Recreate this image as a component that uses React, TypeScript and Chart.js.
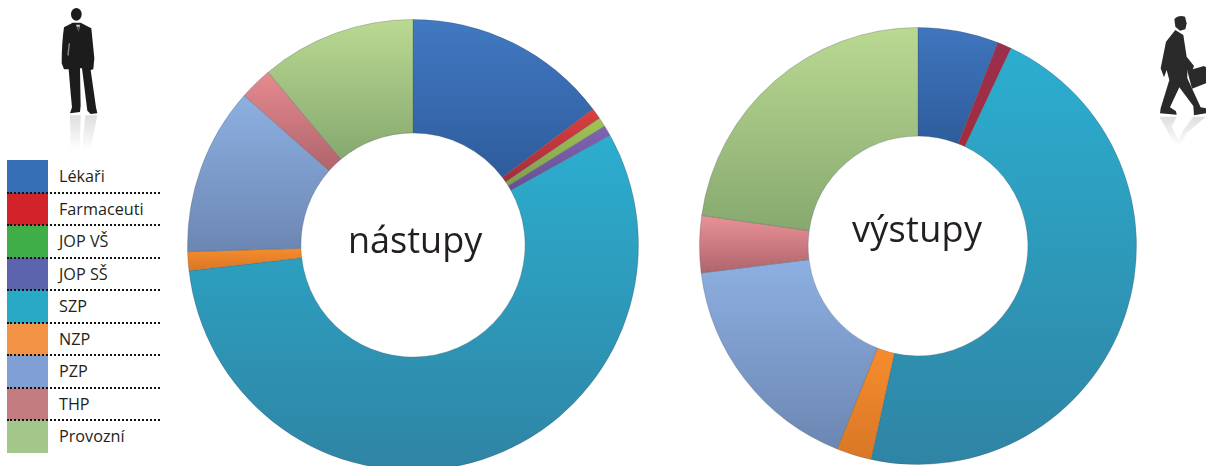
import React, { useEffect, useRef } from "react";
import { Chart, registerables } from "chart.js";

Chart.register(...registerables);

const categories = ["Lékaři", "Farmaceuti", "JOP VŠ", "JOP SŠ", "SZP", "NZP", "PZP", "THP", "Provozní"];
const nastupyValues = [14.7, 0.8, 0.67, 0.75, 56.25, 1.36, 12, 2.36, 11.11];
const vystupyValues = [5.95, 1.05, 0, 0, 46.45, 2.58, 17, 4.2, 22.77];
const legendColors = ["#376fb7", "#d2232a", "#3fae49", "#5c64ad", "#2aa9c6", "#f39345", "#7f9fd5", "#c27b7e", "#a3c78a"];
const sliceTop = ["#4179c2", "#dc4040", "#a2c554", "#8064b4", "#2caecf", "#f78c2c", "#8db0e2", "#e58b8f", "#bad992"];
const sliceBottom = ["#2e5c9c", "#a32c3c", "#7f9c50", "#664f94", "#2f84a4", "#d87726", "#6c86b2", "#b0646c", "#86a96f"];
const sliceTopRight = ["#3f76be", "#9a2f50", "#a2c554", "#8064b4", "#2caecf", "#f78c2c", "#8db0e2", "#e99296", "#bad992"];

function sliceGradient(ctx: any, tops: string[]) {
  const chart = ctx.chart;
  const values: number[] = ctx.dataset.data;
  const area = chart.chartArea;
  if (!area) return tops[ctx.dataIndex];
  const total = values.reduce((a, b) => a + b, 0);
  const start = values.slice(0, ctx.dataIndex).reduce((a, b) => a + b, 0) / total;
  const end = start + values[ctx.dataIndex] / total;
  const cy = (area.top + area.bottom) / 2;
  const r = Math.min(area.width, area.height) / 2;
  const cut = 0.5;
  let minY = Infinity;
  let maxY = -Infinity;
  for (let i = 0; i <= 60; i++) {
    const a = (start + ((end - start) * i) / 60) * Math.PI * 2;
    for (const k of [1, cut]) {
      const y = cy - Math.cos(a) * r * k;
      minY = Math.min(minY, y);
      maxY = Math.max(maxY, y);
    }
  }
  const g = chart.ctx.createLinearGradient(0, minY, 0, Math.max(maxY, minY + 1));
  g.addColorStop(0, tops[ctx.dataIndex]);
  g.addColorStop(1, sliceBottom[ctx.dataIndex]);
  return g;
}

function Donut({ values, tops, left, top, size, cutout }: { values: number[]; tops: string[]; left: number; top: number; size: number; cutout: string }) {
  const ref = useRef<HTMLCanvasElement>(null);
  useEffect(() => {
    const chart = new Chart(ref.current!, {
      type: "doughnut",
      data: {
        labels: categories,
        datasets: [
          {
            data: values,
            backgroundColor: (ctx: any) => sliceGradient(ctx, tops),
            borderColor: "rgba(70,80,90,0.28)",
            borderWidth: 1,
          },
        ],
      },
      options: {
        animation: false,
        responsive: false,
        maintainAspectRatio: false,
        devicePixelRatio: 1,
        cutout,
        rotation: 0,
        layout: { padding: 0 },
        plugins: { legend: { display: false }, tooltip: { enabled: false } },
      },
    });
    return () => chart.destroy();
  }, []);
  return (
    <canvas
      ref={ref}
      width={size}
      height={size}
      style={{ position: "absolute", left, top, width: size, height: size, filter: "blur(0.5px)" }}
    />
  );
}

const FONT = '"Open Sans", sans-serif';
const ROW = 32.55;

function Legend() {
  return (
    <>
      {categories.map((name, i) => (
        <React.Fragment key={name}>
          <div style={{ position: "absolute", left: 7, top: 160 + i * ROW, width: 41, height: ROW + 0.5, background: legendColors[i] }} />
          <div
            style={{
              position: "absolute",
              left: 59,
              top: 160 + i * ROW + 4,
              height: 24,
              lineHeight: "24px",
              fontFamily: FONT,
              fontSize: 16.2,
              color: "#231f20",
              whiteSpace: "nowrap",
            }}
          >
            {name}
          </div>
          {i > 0 && (
            <div style={{ position: "absolute", left: 7, top: 159 + i * ROW, width: 153, height: 0, borderTop: "2px dotted #111" }} />
          )}
        </React.Fragment>
      ))}
    </>
  );
}

function Figures() {
  return (
    <svg width={1206} height={466} style={{ position: "absolute", left: 0, top: 0 }}>
      <defs>
        <linearGradient id="refl" x1="0" y1="0" x2="0" y2="1">
          <stop offset="0" stopColor="#000" stopOpacity="0.13" />
          <stop offset="1" stopColor="#000" stopOpacity="0" />
        </linearGradient>
        <filter id="soft"><feGaussianBlur stdDeviation="0.6" /></filter>
        <filter id="soft2"><feGaussianBlur stdDeviation="1.5" /></filter>
      </defs>
      <g transform="scale(0.3333)" filter="url(#soft)">
        <ellipse cx="229" cy="43" rx="16" ry="19" fill="#1f1d1e" />
        <path
          fill="#1f1d1e"
          d="M218 68 L192 82 Q185 130 185 190 L192 208 L206 208 L212 280 L216 322 L210 340 L240 336 L242 318 L240 205 L246 205 L262 332 L272 342 L292 340 L288 322 L272 210 L280 208 L283 175 L274 85 L242 68 Z"
        />
        <path fill="#cfcfcf" d="M228 74 L240 74 L236 96 Z" />
        <path fill="#1f1d1e" d="M232 80 L237 80 L235 100 Z" />
        <path fill="#8a8a8a" d="M206 130 L210 130 L206 168 L202 165 Z" />
      </g>
      <g transform="scale(0.3333)" filter="url(#soft2)">
        <path fill="url(#refl)" d="M210 346 L242 346 L240 450 L212 450 Z" />
        <path fill="url(#refl)" d="M256 346 L292 346 L272 450 L246 450 Z" />
      </g>
      <g transform="translate(1130 0) scale(0.3333)" filter="url(#soft)">
        <path fill="#2b2a2b" d="M133 58 Q145 44 165 50 L170 70 L166 88 L150 92 L136 80 Z" />
        <path
          fill="#2b2a2b"
          d="M136 90 L108 125 L92 205 L102 232 L110 210 L118 240 L92 325 L90 340 L140 344 L138 334 L120 322 L148 262 L190 318 L192 346 L228 340 L228 325 L212 322 L172 235 L172 212 L186 214 L192 198 L170 170 L160 105 Z"
        />
        <path fill="#2b2a2b" d="M172 212 L222 198 L228 202 L228 250 L186 266 Z" />
      </g>
      <g transform="translate(1130 0) scale(0.3333)" filter="url(#soft2)">
        <path fill="url(#refl)" d="M88 350 L140 350 L125 380 L145 420 L160 390 L190 350 L228 350 L170 400 L150 440 L130 425 Z" />
      </g>
    </svg>
  );
}

const centerStyle: React.CSSProperties = {
  position: "absolute",
  fontFamily: FONT,
  fontSize: 36,
  lineHeight: "50px",
  height: 50,
  color: "#231f20",
  whiteSpace: "nowrap",
};

export default function App() {
  return (
    <div style={{ position: "fixed", inset: 0, overflow: "hidden", background: "#fff" }}>
      <Figures />
      <Legend />
      <Donut values={nastupyValues} tops={sliceTop} left={187} top={19} size={452} cutout="49.7%" />
      <Donut values={vystupyValues} tops={sliceTopRight} left={699} top={27} size={438} cutout="50.3%" />
      <div style={{ ...centerStyle, left: 348, top: 215 }}>nástupy</div>
      <div style={{ ...centerStyle, left: 852, top: 204, letterSpacing: 0.3 }}>výstupy</div>
    </div>
  );
}
